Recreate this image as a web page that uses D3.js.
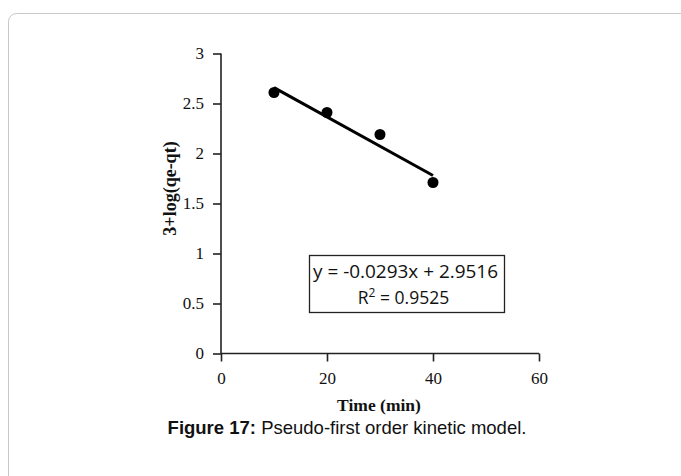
<!DOCTYPE html>
<html>
<head>
<meta charset="utf-8">
<script src="https://cdn.jsdelivr.net/npm/d3@7"></script>
<style>
  body { margin: 0; background: #fff; }
</style>
</head>
<body>
<div class="chart"></div>
<script>
// data
var times = [10, 20, 30, 40];
var logValues = [2.61, 2.41, 2.19, 1.71];
var xTicks = [0, 20, 40, 60];
var yTicks = [0, 0.5, 1, 1.5, 2, 2.5, 3];
var fitSlope = -0.0293;
var fitIntercept = 2.9516;
var fitLabels = ["y = -0.0293x + 2.9516", "R", "2", " = 0.9525"];

var svgWidth = 681;
var svgHeight = 476;
var serif = "'Liberation Serif', 'Times New Roman', serif";

var svg = d3.select(".chart")
    .append("svg")
    .attr("width", svgWidth)
    .attr("height", svgHeight);

// outer frame of the figure panel
svg.append("rect")
    .attr("x", 8.5)
    .attr("y", 13.5)
    .attr("width", 690)
    .attr("height", 490)
    .attr("rx", 8)
    .attr("fill", "none")
    .attr("stroke", "#c8c8c8")
    .attr("stroke-width", 1);

var xScale = d3.scaleLinear().domain([0, 60]).range([221, 539]);
var yScale = d3.scaleLinear().domain([0, 3]).range([353.5, 53.5]);

var bottomAxis = d3.axisBottom(xScale).tickValues(xTicks).tickSize(8).tickPadding(6)
    .tickFormat(function(d) { return String(d); });
var leftAxis = d3.axisLeft(yScale).tickValues(yTicks).tickSize(8).tickPadding(9)
    .tickFormat(function(d) { return String(d); });

var xAxisG = svg.append("g")
    .attr("transform", "translate(0," + yScale(0) + ")")
    .call(bottomAxis);
var yAxisG = svg.append("g")
    .attr("transform", "translate(" + xScale(0) + ",0)")
    .call(leftAxis);

[xAxisG, yAxisG].forEach(function(g) {
    g.attr("font-family", serif).attr("font-size", 17);
    g.select(".domain").attr("stroke", "#222").attr("stroke-width", 1.6);
    g.selectAll(".tick line").attr("stroke", "#222").attr("stroke-width", 1.6);
    g.selectAll(".tick text").attr("fill", "#111");
});
// drop outer ticks of the domain path
xAxisG.select(".domain").attr("d", "M" + xScale(0) + ",0H" + xScale(60));
yAxisG.select(".domain").attr("d", "M0," + yScale(0) + "V" + yScale(3));
xAxisG.selectAll(".tick text").attr("dy", "0.95em");

// trend line
var line = d3.line()
    .x(function(d) { return xScale(d); })
    .y(function(d) { return yScale(fitSlope * d + fitIntercept); });
svg.append("path")
    .datum([times[0], times[times.length - 1]])
    .attr("d", line)
    .attr("fill", "none")
    .attr("stroke", "#000")
    .attr("stroke-width", 3);

svg.selectAll("circle")
    .data(times)
    .enter()
    .append("circle")
    .attr("cx", function(d) { return xScale(d); })
    .attr("cy", function(d, i) { return yScale(logValues[i]); })
    .attr("r", 5.5)
    .attr("fill", "#000");

// equation box
svg.append("rect")
    .attr("x", 309.5)
    .attr("y", 255.5)
    .attr("width", 195)
    .attr("height", 57)
    .attr("fill", "#fff")
    .attr("stroke", "#222")
    .attr("stroke-width", 1.3);

svg.append("text")
    .attr("x", 405.5)
    .attr("y", 278)
    .attr("text-anchor", "middle")
    .attr("font-family", "'Open Sans', sans-serif")
    .attr("font-size", "17.5px")
    .attr("textLength", 185)
    .attr("lengthAdjust", "spacingAndGlyphs")
    .attr("fill", "#111")
    .text(fitLabels[0]);

var r2 = svg.append("text")
    .attr("x", 403.5)
    .attr("y", 304)
    .attr("text-anchor", "middle")
    .attr("font-family", "'Open Sans', sans-serif")
    .attr("font-size", "17.5px")
    .attr("fill", "#111");
r2.append("tspan").text(fitLabels[1]);
r2.append("tspan").attr("dy", -7).attr("font-size", "12px").text(fitLabels[2]);
r2.append("tspan").attr("dy", 7).text(fitLabels[3]);

// axis titles
svg.append("text")
    .attr("transform", "translate(176," + yScale(1.65) + ") rotate(-90)")
    .attr("text-anchor", "middle")
    .attr("font-family", serif)
    .attr("font-size", "18px")
    .attr("font-weight", "bold")
    .attr("fill", "#111")
    .text("3+log(qe-qt)");

svg.append("text")
    .attr("x", 379)
    .attr("y", 411)
    .attr("text-anchor", "middle")
    .attr("font-family", serif)
    .attr("font-size", "17.5px")
    .attr("font-weight", "bold")
    .attr("fill", "#111")
    .text("Time (min)");

// caption
var caption = svg.append("text")
    .attr("x", 347)
    .attr("y", 434)
    .attr("text-anchor", "middle")
    .attr("font-family", "'Liberation Sans', Arial, sans-serif")
    .attr("font-size", "18.5px")
    .attr("fill", "#111");
caption.append("tspan").attr("font-weight", "bold").text("Figure 17:");
caption.append("tspan").text(" Pseudo-first order kinetic model.");
</script>
</body>
</html>
